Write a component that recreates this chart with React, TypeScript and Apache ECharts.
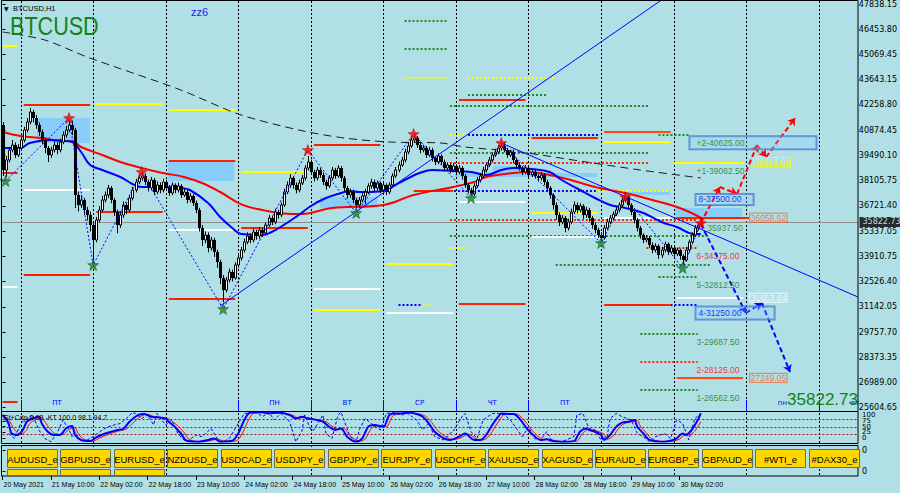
import React, { useEffect, useRef } from "react";
import * as echarts from "echarts";

// ---------------- DATA ----------------
const timeLabels = ["20 May 2021", "21 May 10:00", "22 May 02:00", "22 May 18:00", "23 May 10:00", "24 May 02:00", "24 May 18:00", "25 May 10:00", "26 May 02:00", "26 May 18:00", "27 May 10:00", "28 May 02:00", "28 May 18:00", "29 May 10:00", "30 May 02:00"];
const priceTicks = ["47838.15", "46453.80", "45069.45", "43643.15", "42258.80", "40874.45", "39490.10", "38105.75", "36721.40", "35337.05", "33910.75", "32526.40", "31142.05", "29757.70", "28373.35", "26989.00", "25604.65"];
const stochTicks = ["100", "75", "50", "25", "0"];
const stochLevels = [75, 50, 25];
const lastPrice = 35822.73;
const firstOpen = 41155;

const closes = [
  38680, 39230, 39780, 40055, 39505, 39890, 40330, 40880, 41320, 41870,
  41540, 41155, 40770, 40330, 39890, 39505, 39780, 40055, 39780, 40220,
  40605, 40880, 41155, 40880, 37305, 36755, 37030, 36480, 36205, 35655,
  34830, 35930, 36480, 37030, 37305, 37690, 37030, 36370, 35655, 36205,
  36755, 36480, 37140, 37580, 38020, 38240, 38350, 38020, 37690, 38130,
  37470, 37855, 37580, 38020, 37690, 37415, 37855, 37580, 37800, 37305,
  37470, 37030, 37250, 36865, 36480, 35490, 34830, 35105, 34390, 34830,
  34170, 33620, 32740, 32080, 32630, 33070, 32740, 33455, 33840, 34280,
  34720, 35050, 34830, 35270, 35050, 35380, 35215, 35655, 36040, 35820,
  36370, 36205, 36755, 37470, 37855, 38240, 37855, 37580, 37965, 38240,
  38790, 39120, 38570, 38240, 38680, 38405, 38020, 37800, 38240, 38680,
  38350, 38790, 38240, 37690, 37305, 37470, 37030, 36755, 37030, 37250,
  37470, 37800, 38020, 37690, 37965, 37580, 37855, 37470, 37855,
  38350, 38680, 38955, 39230, 39670, 40000, 40330, 40440, 40055, 39780,
  39890, 39505, 39780, 39340, 39120, 39450, 39120, 38790, 38955, 38680,
  38900, 38570, 38790, 38350, 37855, 37580, 37360, 37800, 38130, 38350,
  38680, 38955, 39230, 39505, 39670, 39890, 40000, 39780, 39505, 39670,
  39230, 38955, 38790, 38570, 38790, 38405, 38570, 38350, 38240, 38405,
  38020, 37690, 37305, 36755, 36205, 35820, 36040, 35490, 35820, 36370,
  36755, 36480, 36700, 36205, 36480, 36040, 35655, 35380, 35105, 34940,
  35490, 35820, 36040, 36260, 36480, 36755, 37030, 37195, 36755, 36370,
  35930, 35490, 35105, 34830, 34940, 34555, 34280, 34500, 34005, 34280,
  34610, 34170, 34390, 34060, 34280, 33950, 33730, 34280, 34720, 35105,
  35490, 35655, 35822.73,
];
const highs = [
  41320, 39450, 39950, 40330, 40200, 40100, 40500, 41050, 41540, 42090,
  41980, 41700, 41300, 40900, 40450, 40000, 39950, 40250, 40200, 40400,
  40800, 41100, 41430, 41400, 41000, 37500, 37300, 37150, 36650, 36400,
  35800, 36100, 36700, 37250, 37500, 37860, 37800, 37150, 36500, 36400,
  36950, 36900, 37300, 37750, 38200, 38450, 38570, 38500, 38150, 38300,
  38250, 38050, 38000, 38200, 38150, 37850, 38000, 37950, 37980, 37900,
  37650, 37600, 37400, 37350, 37000, 36600, 35650, 35300, 35250, 35000,
  34950, 34300, 33750, 32900, 32800, 33250, 33200, 33600, 34000, 34450,
  34900, 35250, 35200, 35450, 35400, 35550, 35500, 35800, 36200, 36150,
  36550, 36500, 36900, 37650, 38050, 38450, 38350, 38000, 38150, 38400,
  38950, 39450, 39250, 38700, 38850, 38800, 38550, 38150, 38400, 38850,
  38800, 38950, 38900, 38350, 37800, 37650, 37600, 37150, 37200, 37400,
  37650, 37950, 38200, 38150, 38100, 38050, 38000, 37950, 38000,
  38500, 38850, 39150, 39400, 39850, 40200, 40500, 40700, 40550, 40200,
  40050, 40000, 39950, 39900, 39450, 39600, 39550, 39250, 39100, 39050,
  39050, 39000, 38950, 38900, 38450, 37950, 37700, 37950, 38300, 38500,
  38850, 39100, 39400, 39650, 39850, 40050, 40150, 40200, 39900, 39800,
  39800, 39350, 39100, 38900, 38950, 38900, 38700, 38700, 38450, 38550,
  38500, 38150, 37800, 37400, 36900, 36350, 36200, 36150, 36000, 36550,
  36950, 36900, 36850, 36800, 36650, 36600, 36150, 35800, 35500, 35250,
  35650, 36000, 36200, 36400, 36650, 36900, 37200, 37400, 37300, 36850,
  36450, 36050, 35600, 35200, 35100, 35050, 34700, 34650, 34600, 34450,
  34750, 34700, 34550, 34500, 34400, 34350, 34050, 34450, 34850, 35250,
  35650, 35800, 36050,
];
const lows = [
  38350, 38300, 39100, 39650, 39340, 39400, 39800, 40200, 40750, 41200,
  41300, 40950, 40550, 40100, 39600, 39120, 39350, 39650, 39550, 39650,
  40100, 40450, 40750, 40600, 36590, 36400, 36600, 36200, 35900, 35300,
  33730, 34700, 35800, 36350, 36900, 37150, 36850, 36150, 35200, 35500,
  36050, 36250, 36350, 37000, 37450, 37900, 38100, 37850, 37500, 37550,
  37300, 37350, 37400, 37450, 37550, 37250, 37300, 37400, 37450, 37150,
  37200, 36850, 36900, 36700, 36300, 35300, 34500, 34650, 34150, 34250,
  33900, 33300, 32400, 31400, 31950, 32500, 32550, 32650, 33300, 33700,
  34150, 34600, 34650, 34700, 34850, 34900, 35000, 35100, 35550, 35650,
  35700, 36000, 36100, 36650, 37350, 37700, 37650, 37400, 37450, 37850,
  38100, 38650, 38400, 38050, 38100, 38250, 37850, 37600, 37700, 38100,
  38200, 38250, 38050, 37500, 37100, 37150, 36850, 36550, 36600, 36900,
  36800, 37350, 37650, 37500, 37550, 37400, 37450, 37300, 37350,
  37750, 38250, 38550, 38850, 39100, 39550, 39900, 40200, 39900, 39600,
  39650, 39350, 39400, 39150, 38950, 39000, 38950, 38600, 38650, 38500,
  38550, 38400, 38450, 38150, 37700, 37400, 37250, 37250, 37700, 38000,
  38250, 38550, 38850, 39100, 39400, 39550, 39750, 39650, 39350, 39400,
  39050, 38800, 38650, 38400, 38450, 38250, 38300, 38200, 38050, 38100,
  37850, 37500, 37100, 36500, 35950, 35600, 35700, 35250, 35350, 35700,
  36250, 36300, 36350, 36000, 36050, 35850, 35450, 35200, 34950, 34750,
  34850, 35400, 35700, 35900, 36150, 36350, 36650, 36900, 36600, 36200,
  35750, 35300, 34900, 34650, 34700, 34400, 34100, 34150, 33800, 33850,
  34150, 34000, 34050, 33900, 33950, 33750, 33500, 33650, 34150, 34600,
  35000, 35350, 35550,
];

const redMA = [[0, 40770], [6, 40550], [13, 40440], [20, 40275], [23, 40275], [26, 39945], [33, 39505], [39, 39120], [46, 38790], [53, 38515], [60, 38300], [66, 37965], [72, 37470], [79, 36790], [86, 36480], [93, 36290], [99, 36260], [109, 36590], [126, 36755], [136, 37305], [149, 37745], [156, 38020], [160, 38300], [169, 38515], [174, 38570], [181, 38405], [188, 38130], [196, 37745], [206, 37415], [215, 37030], [224, 36590], [231, 36058.62]];
const blueMA = [[0, 39890], [6, 39890], [9, 40165], [16, 40330], [23, 40220], [26, 39670], [29, 38955], [33, 38680], [39, 38295], [43, 37910], [46, 37745], [53, 37745], [59, 37690], [62, 37580], [68, 36865], [72, 36095], [76, 35490], [79, 35160], [86, 35105], [89, 35270], [92, 35545], [98, 36205], [102, 36700], [107, 37140], [111, 37360], [115, 37525], [118, 37470], [122, 37470], [127, 37580], [130, 37855], [135, 38295], [138, 38515], [142, 38680], [149, 38625], [155, 38570], [160, 38405], [165, 38680], [169, 38790], [175, 38735], [181, 38570], [185, 38130], [191, 37580], [196, 37140], [201, 36755], [206, 36590], [212, 36315], [218, 35820], [223, 35545], [229, 35160], [231, 35160]];
const longMA = [[0, 46270], [14, 45830], [28, 44895], [59, 43080], [78, 41760], [98, 40880], [113, 40440], [128, 40220], [145, 40165], [153, 39945], [171, 39670], [193, 39120], [211, 38680], [231, 38240]];

const swingPoints = [[1, 38075], [22, 41540], [30, 33455], [46, 38570], [73, 31035], [101, 39780], [117, 36315], [136, 40660], [155, 37140], [165, 40165], [198, 34665], [206, 37195], [225, 33290], [231, 35765]];
const risingTrend = [[72, 31200], [218, 48030]];
const fallingTrend = [[165, 40165], [283, 31695]];
const redProjection = [[231, 35765], [237.3, 37745], [243, 37360], [249.6, 40055], [252.6, 39395], [262.2, 41540]];
const blueProjection = [[231, 35710], [245.9, 30815], [251.2, 31365], [260.5, 27570]];

const zones = [[11.4, 28.9, 41540, 40165], [54.7, 76.6, 39230, 38075], [105, 124.2, 37195, 36590], [149.7, 196.7, 38515, 38295], [162.3, 171.8, 38900, 38295], [206.6, 220.8, 37525, 37305], [222.5, 244.6, 36590, 35985]];

const redLevels = [[0, 5, 38515], [0, 5, 25937], [7, 29, 42255], [7, 29, 32905], [31, 53, 36370], [55, 77, 39175], [55, 77, 31585], [79, 101, 35490], [103, 125, 40055], [136, 149, 37525], [151, 173, 42530], [151, 173, 31310], [175, 197, 40440], [199, 221, 31255], [223, 247, 36058.62]];
const yellowLevels = [[0, 5, 45517], [31, 53, 42310], [55, 77, 41980], [79, 101, 38570], [103, 125, 30980], [127, 149, 33510], [175, 197, 36315], [199, 221, 40220], [222, 245, 39062.5]];
const whiteLevels = [[0, 5, 32245], [7, 29, 37580], [55, 77, 35380], [103, 125, 32135], [127, 149, 30815], [151, 173, 36920], [175, 197, 34995], [199, 221, 36040], [223, 245, 31653.84]];
const orangeLevels = [[199, 221, 40770], [223, 245, 27249.05]];
const greenDotLevels = [[133, 147, 46875], [133, 147, 45312.5], [154, 180, 42800], [148, 214, 42187.5], [148, 214, 39615], [148, 234, 35050], [183, 234, 33455], [217, 230, 32812.5], [211, 230, 29687.5], [211, 230, 26562.5], [217, 227, 40625]];
const redDotLevels = [[148, 214, 39062.5], [148, 230, 35937.5], [213, 230, 34375], [211, 230, 28125]];
const blueDotLevels = [[154, 197, 40625], [148, 197, 37500], [217, 230, 31250], [131, 139, 31250]];
const yellowDotLevels = [[133, 147, 43750], [154, 183, 43750], [148, 154, 40625], [197, 221, 37500], [148, 154, 34375], [139, 142, 31250]];

const murrayNames = ["+2", "+1", "8", "7", "6", "5", "4", "3", "2", "1"];
const murrayValues = [40625, 39062.5, 37500, 35937.5, 34375, 32812.5, 31250, 29687.5, 28125, 26562.5];
const projLevelValues = [36058.62, 39118.01, 31653.84, 27249.05];
const projLevelBars = [247, 248.3, 247, 247];

const daySeparators = [6, 30, 54, 78, 102, 126, 150, 174, 198, 222, 246, 270];
const weekStarts = [6, 78, 102, 126, 150, 174, 246, 270];
const weekdayNames = ["ПТ", "ПН", "ВТ", "СР", "ЧТ", "ПТ", "пн", "вт"];

const stochMain = [[0, 91], [2, 62], [3, 28], [5, 23], [7, 45], [8, 68], [10, 79], [12, 85], [13, 62], [15, 34], [17, 23], [19, 23], [21, 45], [23, 53], [24, 23], [26, 6], [29, 2], [31, 15], [34, 28], [36, 34], [38, 40], [40, 44], [42, 68], [45, 91], [47, 94], [49, 85], [51, 83], [54, 79], [55, 68], [57, 51], [59, 28], [61, 3], [65, 0], [68, 6], [70, 11], [72, 0], [76, 3], [78, 28], [80, 74], [82, 99], [86, 100], [88, 96], [91, 99], [95, 91], [97, 79], [99, 85], [101, 79], [103, 76], [106, 68], [108, 51], [110, 40], [112, 45], [114, 17], [117, 0], [119, 11], [121, 51], [123, 57], [126, 51], [128, 91], [130, 96], [132, 96], [134, 99], [137, 94], [139, 85], [141, 62], [143, 34], [146, 11], [148, 6], [151, 17], [153, 28], [156, 6], [158, 6], [160, 23], [162, 57], [164, 85], [165, 96], [168, 94], [169, 94], [171, 79], [173, 51], [175, 28], [178, 6], [180, 8], [182, 2], [185, 0], [189, 2], [191, 34], [193, 45], [194, 40], [196, 34], [198, 23], [199, 6], [201, 23], [203, 51], [205, 65], [207, 68], [209, 74], [210, 51], [212, 28], [214, 6], [218, 0], [221, 3], [223, 11], [225, 28], [226, 23], [228, 40], [230, 74], [231, 96]];
const stochSignal = [[0, 85], [2, 75], [4, 40], [6, 25], [8, 40], [9, 62], [11, 75], [13, 82], [14, 68], [16, 40], [18, 25], [20, 25], [22, 42], [24, 48], [25, 28], [27, 8], [30, 2], [32, 12], [35, 25], [37, 32], [39, 38], [41, 43], [43, 62], [46, 88], [48, 93], [50, 86], [52, 83], [55, 78], [56, 70], [58, 54], [60, 32], [62, 6], [66, 0], [69, 4], [71, 9], [73, 2], [77, 2], [79, 22], [81, 66], [83, 96], [87, 100], [89, 96], [92, 97], [96, 90], [98, 80], [100, 83], [102, 79], [104, 75], [107, 68], [109, 53], [111, 42], [113, 44], [115, 20], [118, 2], [120, 9], [122, 45], [124, 55], [127, 52], [129, 86], [131, 95], [133, 96], [135, 98], [138, 94], [140, 86], [142, 65], [144, 38], [147, 14], [149, 7], [152, 15], [154, 26], [157, 8], [159, 6], [161, 20], [163, 52], [165, 82], [166, 94], [169, 94], [170, 94], [172, 80], [174, 54], [176, 30], [179, 8], [181, 8], [183, 3], [186, 0], [190, 2], [192, 30], [194, 42], [195, 40], [197, 35], [199, 25], [200, 8], [202, 20], [204, 48], [206, 63], [208, 67], [210, 72], [211, 53], [213, 30], [215, 8], [219, 0], [222, 2], [224, 9], [226, 25], [227, 23], [229, 36], [231, 68]];
const stochFast = [[2, 28], [4, 11], [6, 62], [8, 79], [10, 91], [12, 40], [14, 11], [16, 0], [18, 28], [20, 74], [22, 40], [23, 17], [24, 34], [26, 0], [28, 6], [30, 17], [33, 40], [35, 51], [37, 57], [39, 62], [41, 79], [43, 99], [44, 96], [46, 79], [48, 91], [50, 57], [51, 96], [54, 57], [56, 74], [58, 28], [60, 6], [61, 0], [64, 23], [66, 17], [69, 45], [71, 11], [73, 0], [75, 11], [77, 45], [79, 79], [80, 96], [84, 100], [86, 85], [88, 100], [90, 74], [92, 96], [95, 68], [97, 0], [99, 34], [100, 91], [102, 40], [103, 40], [106, 91], [107, 28], [109, 11], [111, 91], [112, 100], [115, 17], [117, 0], [118, 40], [120, 79], [122, 62], [125, 40], [127, 96], [129, 100], [132, 91], [134, 96], [137, 74], [139, 40], [141, 62], [143, 17], [146, 6], [148, 28], [149, 34], [152, 85], [153, 96], [155, 34], [157, 11], [159, 74], [162, 96], [164, 96], [166, 91], [168, 74], [170, 45], [172, 17], [174, 51], [176, 11], [178, 6], [180, 34], [182, 0], [185, 0], [189, 17], [190, 91], [192, 96], [194, 45], [196, 40], [198, 6], [200, 17], [201, 79], [203, 96], [205, 85], [208, 74], [210, 28], [212, 17], [214, 0], [216, 17], [219, 28], [221, 11], [223, 74], [225, 62], [227, 6], [229, 79], [231, 96]];

const buttonLabels = ["AUDUSD_e", "GBPUSD_e", "EURUSD_e", "NZDUSD_e", "USDCAD_e", "USDJPY_e", "GBPJPY_e", "EURJPY_e", "USDCHF_e", "XAUUSD_e", "XAGUSD_e", "EURAUD_e", "EURGBP_e", "GBPAUD_e", "#WTI_e", "#DAX30_e"];

// ---------------- STYLE / LAYOUT ----------------
const X_MAX = 283;
const FONT = '"DejaVu Sans", sans-serif';
const FONT2 = '"Liberation Sans", Arial, sans-serif';
const BG = "#b0e0e6";
const TXT_GREEN = "#127a12";
const RED = "#ff2000";

const segSeries = (data: number[][], style: any, z: number) => ({
  type: "custom",
  xAxisIndex: 0,
  yAxisIndex: 0,
  z,
  silent: true,
  clip: true,
  data,
  renderItem: (params: any, api: any) => {
    const a = api.coord([api.value(0), api.value(2)]);
    const b = api.coord([api.value(1), api.value(2)]);
    const y = Math.round(a[1]);
    return { type: "line", shape: { x1: a[0], y1: y, x2: b[0], y2: y }, style };
  },
});

const candleData = closes.map((c, i) => [i, i === 0 ? firstOpen : closes[i - 1], c, lows[i], highs[i]]);
const timeCats = Array.from({ length: X_MAX + 1 }, (_, i) => (i % 16 === 0 ? timeLabels[i / 16] ?? "" : ""));
const showTime = (idx: number) => idx % 16 === 0 && idx / 16 < timeLabels.length;

const starPath = "path://M0,-10L2.35,-3.24L9.51,-3.09L3.8,1.24L5.88,8.09L0,4L-5.88,8.09L-3.8,1.24L-9.51,-3.09L-2.35,-3.24Z";

const segPairs = (pts: number[][]) => pts.slice(1).map((p, k) => ({ coords: [pts[k], p] }));

const murrayColor = (name: string) => (name === "8" || name === "4" ? "#0000ff" : name === "6" || name === "2" ? "#ff0000" : TXT_GREEN);

const murrayData = murrayValues.map((v, k) => {
  const name = murrayNames[k];
  const boxed = name === "+2" || name === "8" || name === "4";
  const anchor = name === "+2" ? 227.1 : name === "7" ? 233 : boxed ? 229.1 : 229.4;
  const padding = name === "+2" ? [2, 72, 2, 7] : name === "8" ? [1, 12, 1, 3] : name === "4" ? [2, 33, 2, 3] : [0, 0, 0, 0];
  return {
    value: [anchor, v],
    label: {
      show: true,
      position: "right",
      distance: 0,
      offset: [0, 8],
      formatter: name === "7" ? v.toFixed(2) : `${name}-${v.toFixed(2)}`,
      color: murrayColor(name),
      fontSize: 8.5,
      fontFamily: FONT2,
      padding,
      borderColor: boxed ? "#4a78c8" : "transparent",
      borderWidth: boxed ? 1 : 0,
      backgroundColor: boxed ? "rgba(135,206,250,0.35)" : "transparent",
    },
  };
});

const projColors = ["#ff5a1e", "#ffff00", "#ffffff", "#ff5a1e"];
const projData = projLevelValues.map((v, k) => ({
  value: [projLevelBars[k], v],
  label: {
    show: true,
    position: "right",
    distance: 0,
    formatter: v.toFixed(2),
    color: projColors[k],
    borderColor: projColors[k],
    borderWidth: 1,
    padding: [0, 1, 0, 1],
    fontSize: 8.5,
    fontFamily: FONT2,
  },
}));

const grids = [
  { left: 2.5, right: 42, top: 1, height: 410 },
  { left: 2.5, right: 42, top: 3.5, height: 404.2 },
  { left: 2.5, right: 42, top: 412.3, height: 29.4 },
  { left: 2.5, right: 42, top: 415, height: 23 },
  { left: 2.5, right: 42, top: 445.5, height: 30.5 },
  { left: 2.5, right: 42, top: 450, height: 21 },
  { left: 2.5, right: 42, top: 1, height: 475 },
];

const hiddenX = (g: number) => ({ type: "value", gridIndex: g, min: 0, max: X_MAX, show: false });
const labelAxis = (g: number, data: string[], size: number) => ({
  type: "category",
  gridIndex: g,
  position: "right",
  data,
  boundaryGap: false,
  axisLine: { show: false },
  axisTick: { show: true, length: 3, lineStyle: { color: "#000" } },
  axisLabel: { interval: 0, color: "#000", fontSize: size, fontFamily: FONT, margin: 4 },
  splitLine: { show: false },
});

const buttonEls: any[] = [];
buttonLabels.forEach((t, k) => {
  const x = Math.round(7 + k * 53.45);
  buttonEls.push({ type: "rect", z: 100, shape: { x: x + 0.5, y: 449.5, width: 50, height: 18 }, style: { fill: "#ffd700", stroke: "#6f6a4a", lineWidth: 1 } });
  buttonEls.push({ type: "text", z: 101, x: x + 25.5, y: 459, style: { text: t, fill: "#000", fontSize: 9.5, fontFamily: FONT2, align: "center", verticalAlign: "middle" } });
});
[0, 1, 2].forEach((k) => {
  const x = Math.round(7 + k * 53.45);
  buttonEls.push({ type: "rect", z: 100, shape: { x: x + 0.5, y: 469.5, width: 50, height: 6 }, style: { fill: "#ffd700", stroke: "#6f6a4a", lineWidth: 1 } });
});

const option: any = {
  animation: false,
  backgroundColor: BG,
  grid: grids.map((g) => ({ ...g, show: false })),
  xAxis: [
    hiddenX(0),
    hiddenX(1),
    hiddenX(2),
    hiddenX(3),
    {
      type: "category",
      gridIndex: 4,
      data: timeCats,
      boundaryGap: false,
      position: "bottom",
      axisLine: { show: false },
      axisTick: { show: true, interval: showTime, length: 4, lineStyle: { color: "#000" } },
      axisLabel: { interval: showTime, align: "left", color: "#000", fontSize: 7, fontFamily: FONT2, margin: 5, padding: [0, 0, 0, 1] },
      splitLine: { show: false },
    },
    hiddenX(5),
    hiddenX(6),
  ],
  yAxis: [
    { type: "value", gridIndex: 0, min: 25425, max: 47975, show: false },
    labelAxis(1, [...priceTicks].reverse(), 8),
    { type: "value", gridIndex: 2, min: 0, max: 100, show: false },
    labelAxis(3, [...stochTicks].reverse(), 7),
    { type: "value", gridIndex: 4, min: 0, max: 1, show: false },
    labelAxis(5, ["0", "0"], 8),
    { type: "value", gridIndex: 6, min: 0, max: 1, show: false },
  ],
  series: [
    // day separators across panels
    {
      type: "custom", xAxisIndex: 6, yAxisIndex: 6, z: 1, silent: true,
      data: daySeparators.map((d) => [d, 0]),
      renderItem: (params: any, api: any) => {
        const a = api.coord([api.value(0), 1]);
        const b = api.coord([api.value(0), 0]);
        const x = Math.round(a[0]) + 0.5;
        return { type: "line", shape: { x1: x, y1: a[1], x2: x, y2: b[1] }, style: { stroke: "#000", lineWidth: 1, lineDash: [2, 2] } };
      },
    },
    // zones
    {
      type: "custom", xAxisIndex: 0, yAxisIndex: 0, z: 1, silent: true, clip: true,
      data: zones,
      renderItem: (params: any, api: any) => {
        const a = api.coord([api.value(0), api.value(2)]);
        const b = api.coord([api.value(1), api.value(3)]);
        return { type: "rect", shape: { x: a[0], y: a[1], width: b[0] - a[0], height: b[1] - a[1] }, style: { fill: "#87cefa" } };
      },
    },
    // current price line
    {
      type: "custom", xAxisIndex: 0, yAxisIndex: 0, z: 2, silent: true, clip: true,
      data: [[0, X_MAX, lastPrice]],
      renderItem: (params: any, api: any) => {
        const a = api.coord([api.value(0), api.value(2)]);
        const b = api.coord([api.value(1), api.value(2)]);
        const y = Math.round(a[1]) + 0.5;
        return { type: "line", shape: { x1: a[0], y1: y, x2: b[0], y2: y }, style: { stroke: "#8c8c8c", lineWidth: 1 } };
      },
    },
    {
      type: "scatter", xAxisIndex: 0, yAxisIndex: 0, z: 12, silent: true, symbolSize: 1, itemStyle: { color: "transparent" },
      data: [{
        value: [X_MAX, lastPrice],
        label: { show: true, position: "right", distance: 1, formatter: lastPrice.toFixed(2), color: "#fff", backgroundColor: "#000", padding: [1, 2, 1, 3], fontSize: 8, fontFamily: FONT },
      }],
    },
    segSeries(greenDotLevels, { stroke: "#1f8a1f", lineWidth: 2, lineDash: [2, 2] }, 2),
    segSeries(redDotLevels, { stroke: "#ff2000", lineWidth: 2, lineDash: [2, 2] }, 2),
    segSeries(blueDotLevels, { stroke: "#0000ff", lineWidth: 2, lineDash: [2, 2] }, 2),
    segSeries(yellowDotLevels, { stroke: "#ffff00", lineWidth: 2, lineDash: [2, 2] }, 2),
    segSeries(redLevels, { stroke: RED, lineWidth: 2 }, 2),
    segSeries(yellowLevels, { stroke: "#ffff00", lineWidth: 2 }, 2),
    segSeries(whiteLevels, { stroke: "#ffffff", lineWidth: 2 }, 2),
    segSeries(orangeLevels, { stroke: "#ff4a10", lineWidth: 2 }, 2),
    // weekday markers
    {
      type: "custom", xAxisIndex: 0, yAxisIndex: 0, z: 3, silent: true,
      data: weekStarts.map((s) => [s, 30000]),
      renderItem: (params: any, api: any) => {
        const cs = params.coordSys;
        const p = api.coord([api.value(0), 30000]);
        const q = api.coord([api.value(0) + 12, 30000]);
        const bottom = cs.y + cs.height;
        const x = Math.round(p[0]) + 0.5;
        return {
          type: "group",
          children: [
            { type: "line", shape: { x1: x, y1: bottom - 11, x2: x, y2: bottom }, style: { stroke: "#0000ff", lineWidth: 1 } },
            { type: "text", x: q[0], y: bottom - 8, style: { text: weekdayNames[params.dataIndex], fill: "#0000ff", fontSize: 7, fontFamily: FONT, align: "center", verticalAlign: "middle" } },
          ],
        };
      },
    },
    // moving averages
    {
      type: "line", xAxisIndex: 0, yAxisIndex: 0, z: 4, data: longMA, symbol: "none", smooth: 0.3, silent: true,
      lineStyle: { color: "#1a1a1a", width: 1, type: [8, 5] },
    },
    {
      type: "line", xAxisIndex: 0, yAxisIndex: 0, z: 4, data: redMA, symbol: "none", smooth: 0.4, silent: true,
      lineStyle: { color: "#ff0000", width: 2 },
    },
    {
      type: "line", xAxisIndex: 0, yAxisIndex: 0, z: 4, data: blueMA, symbol: "none", smooth: 0.4, silent: true,
      lineStyle: { color: "#0000ff", width: 2 },
    },
    // candles
    {
      type: "custom", xAxisIndex: 0, yAxisIndex: 0, z: 5, silent: true, clip: true,
      data: candleData,
      renderItem: (params: any, api: any) => {
        const i = api.value(0);
        const o = api.value(1);
        const c = api.value(2);
        const po = api.coord([i, o]);
        const pc = api.coord([i, c]);
        const pl = api.coord([i, api.value(3)]);
        const ph = api.coord([i, api.value(4)]);
        const xc = Math.round(po[0]) + 0.5;
        const top = Math.min(po[1], pc[1]);
        const h = Math.max(Math.abs(po[1] - pc[1]), 1);
        const body = c >= o
          ? { type: "rect", shape: { x: xc - 1, y: top, width: 2, height: h }, style: { fill: "#ffffff", stroke: "#000", lineWidth: 1 } }
          : { type: "rect", shape: { x: xc - 1.5, y: top, width: 3, height: h }, style: { fill: "#000" } };
        return {
          type: "group",
          children: [
            { type: "line", shape: { x1: xc, y1: ph[1], x2: xc, y2: pl[1] }, style: { stroke: "#000", lineWidth: 1 } },
            body,
          ],
        };
      },
    },
    // trend lines
    { type: "line", xAxisIndex: 0, yAxisIndex: 0, z: 6, data: risingTrend, symbol: "none", silent: true, lineStyle: { color: "#0000ff", width: 1 } },
    { type: "line", xAxisIndex: 0, yAxisIndex: 0, z: 6, data: fallingTrend, symbol: "none", silent: true, lineStyle: { color: "#0000ff", width: 1 } },
    // zigzag
    { type: "line", xAxisIndex: 0, yAxisIndex: 0, z: 6, data: swingPoints, symbol: "none", silent: true, lineStyle: { color: "#0000ff", width: 1, type: [2, 2] } },
    // projections
    {
      type: "lines", coordinateSystem: "cartesian2d", xAxisIndex: 0, yAxisIndex: 0, z: 7, silent: true,
      data: segPairs(redProjection), symbol: ["none", "arrow"], symbolSize: 7,
      lineStyle: { color: "#ff0000", width: 2, type: [5, 3], opacity: 1 },
    },
    {
      type: "lines", coordinateSystem: "cartesian2d", xAxisIndex: 0, yAxisIndex: 0, z: 7, silent: true,
      data: segPairs(blueProjection), symbol: ["none", "arrow"], symbolSize: 7,
      lineStyle: { color: "#0000ff", width: 2, type: [5, 3], opacity: 1 },
    },
    // swing stars
    {
      type: "scatter", xAxisIndex: 0, yAxisIndex: 0, z: 8, silent: true,
      data: swingPoints.filter((_, k) => k % 2 === 1), symbol: starPath, symbolSize: 11,
      itemStyle: { color: "#ff0000", borderColor: "#b00000", borderWidth: 0.6 },
    },
    {
      type: "scatter", xAxisIndex: 0, yAxisIndex: 0, z: 8, silent: true,
      data: swingPoints.filter((_, k) => k % 2 === 0), symbol: starPath, symbolSize: 11,
      itemStyle: { color: "#1d8a2a", borderColor: "#0b4a14", borderWidth: 0.6 },
    },
    // murray labels
    { type: "scatter", xAxisIndex: 0, yAxisIndex: 0, z: 9, silent: true, symbolSize: 1, itemStyle: { color: "transparent" }, data: murrayData },
    // projected level boxes
    { type: "scatter", xAxisIndex: 0, yAxisIndex: 0, z: 9, silent: true, symbolSize: 1, itemStyle: { color: "transparent" }, data: projData },
    // stochastic
    {
      type: "line", xAxisIndex: 2, yAxisIndex: 2, z: 4, data: stochFast, symbol: "none", silent: true,
      lineStyle: { color: "#0000ff", width: 1, type: [3, 2] },
      markLine: {
        silent: true, symbol: "none", label: { show: false },
        lineStyle: { color: "#a01010", width: 1, type: [2, 2] },
        data: stochLevels.map((v) => ({ yAxis: v })),
      },
    },
    { type: "line", xAxisIndex: 2, yAxisIndex: 2, z: 5, data: stochSignal, symbol: "none", smooth: 0.3, silent: true, lineStyle: { color: "#ff0000", width: 1 } },
    { type: "line", xAxisIndex: 2, yAxisIndex: 2, z: 6, data: stochMain, symbol: "none", smooth: 0.3, silent: true, lineStyle: { color: "#0000ff", width: 2 } },
  ],
  graphic: {
    elements: [
      { type: "rect", z: 100, shape: { x: 1.5, y: 0.5, width: 856.5, height: 411 }, style: { fill: "none", stroke: "#000", lineWidth: 1 } },
      { type: "rect", z: 100, shape: { x: 1.5, y: 411.5, width: 856.5, height: 32 }, style: { fill: "none", stroke: "#000", lineWidth: 1 } },
      { type: "rect", z: 100, shape: { x: 1.5, y: 445.5, width: 856.5, height: 30.5 }, style: { fill: "none", stroke: "#000", lineWidth: 1 } },
      ...buttonEls,
      { type: "text", z: 102, x: 4, y: 8, style: { text: "▼", fill: "#000", fontSize: 6, fontFamily: FONT, verticalAlign: "middle" } },
      { type: "text", z: 102, x: 13, y: 8, style: { text: "BTCUSD,H1", fill: "#000", fontSize: 7.5, fontFamily: FONT2, verticalAlign: "middle" } },
      { type: "text", z: 102, x: 10, y: 26, scaleX: 0.83, style: { text: "BTCUSD", fill: "#148214", fontSize: 26, fontFamily: FONT2, verticalAlign: "middle" } },
      { type: "text", z: 102, x: 191, y: 12, style: { text: "zz6", fill: "#2020ff", fontSize: 11, fontFamily: FONT2, verticalAlign: "middle" } },
      { type: "text", z: 102, x: 4, y: 417, style: { text: "St+Cdp-8 08 -KT 100.0 98.1 94.7", fill: "#000", fontSize: 7, fontFamily: FONT2, verticalAlign: "middle" } },
      { type: "text", z: 102, x: 858, y: 399, style: { text: lastPrice.toFixed(2), fill: "#148214", fontSize: 17, fontFamily: FONT2, align: "right", verticalAlign: "middle" } },
    ],
  },
};

export default function App() {
  const ref = useRef<HTMLDivElement>(null);
  useEffect(() => {
    const chart = echarts.init(ref.current as HTMLDivElement, undefined, { renderer: "svg" });
    chart.setOption(option);
    return () => chart.dispose();
  }, []);
  return <div ref={ref} style={{ position: "fixed", left: 0, top: 0, width: 900, height: 493 }} />;
}
